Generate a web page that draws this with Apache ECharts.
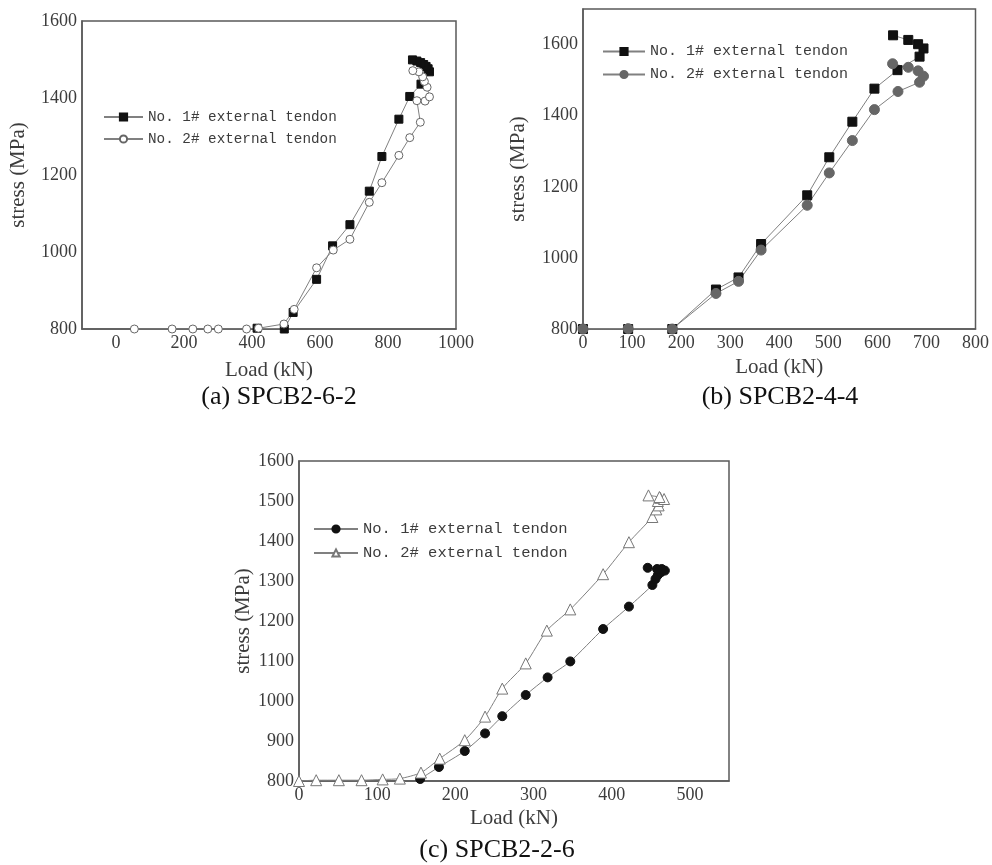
<!DOCTYPE html>
<html>
<head>
<meta charset="utf-8">
<script src="https://cdn.jsdelivr.net/npm/echarts@6/dist/echarts.min.js"></script>
<style>
html,body{margin:0;padding:0;background:#fff;}
#chart{width:992px;height:865px;}
</style>
</head>
<body>
<div id="chart"></div>
<script>
// ---- Data ----
// (a) SPCB2-6-2
const loadA1   = [415, 495, 521, 590, 637, 688, 745, 782, 832, 864, 897, 922, 918, 912, 905, 896, 885, 872];
const stressA1 = [802, 800, 843, 929, 1016, 1071, 1158, 1248, 1345, 1404, 1436, 1468, 1476, 1482, 1487, 1492, 1496, 1499];
const loadA2   = [54, 165, 226, 270, 301, 384, 419, 494, 524, 590, 639, 688, 745, 782, 832, 864, 895, 885, 909, 922, 915, 907, 902, 891, 873];
const stressA2 = [800, 800, 800, 800, 800, 800, 802, 813, 851, 959, 1005, 1033, 1129, 1180, 1251, 1297, 1337, 1393, 1392, 1403, 1428, 1443, 1455, 1468, 1471];
// (b) SPCB2-4-4
const loadB1   = [0, 92, 182, 271, 317, 363, 457, 502, 549, 594, 641, 686, 694, 683, 663, 632];
const stressB1 = [800, 800, 800, 911, 945, 1039, 1176, 1283, 1383, 1476, 1528, 1566, 1589, 1601, 1613, 1626];
const loadB2   = [0, 92, 182, 271, 317, 363, 457, 502, 549, 594, 642, 686, 694, 683, 663, 631];
const stressB2 = [800, 801, 800, 900, 934, 1022, 1148, 1239, 1330, 1417, 1468, 1494, 1511, 1526, 1536, 1546];
// (c) SPCB2-2-6
const loadC1   = [155, 179, 212, 238, 260, 290, 318, 347, 389, 422, 452, 456, 459, 463, 468, 464, 458, 446];
const stressC1 = [805, 835, 875, 919, 962, 1015, 1059, 1099, 1180, 1236, 1290, 1305, 1315, 1322, 1326, 1330, 1330, 1333];
const loadC2   = [0, 22, 51, 80, 107, 129, 156, 180, 212, 238, 260, 290, 317, 347, 389, 422, 452, 457, 460, 459, 462, 467, 461, 447];
const stressC2 = [800, 802, 802, 802, 804, 806, 821, 856, 902, 961, 1031, 1094, 1176, 1229, 1317, 1397, 1460, 1479, 1489, 1500, 1508, 1505, 1510, 1514];

const seriesNames = { a1: 'No. 1# external tendon', a2: 'No. 2# external tendon',
                      b1: 'No. 1# external tendon', b2: 'No. 2# external tendon',
                      c1: 'No. 1# external tendon', c2: 'No. 2# external tendon' };
const captions = ['(a) SPCB2-6-2', '(b) SPCB2-4-4', '(c) SPCB2-2-6'];
const xName = 'Load (kN)';
const yName = 'stress (MPa)';

function zip(xs, ys){ return xs.map((x,i)=>[x, ys[i]]); }

const serif = 'Liberation Serif';
const mono = 'Liberation Mono';
const txt = '#3c3c3c';
const frame = '#5a5a5a';
const lineCol = '#808080';

function xAxis(gi, min, max, interval, step, gap){
  return {
    type:'value', gridIndex:gi, min:min, max:max, interval:interval,
    name:xName, nameLocation:'middle', nameGap:gap,
    nameTextStyle:{fontFamily:serif, fontSize:21, color:txt},
    axisLine:{show:true, onZero:false, lineStyle:{color:frame, width:1.5}},
    axisTick:{show:false}, splitLine:{show:false},
    axisLabel:{fontFamily:serif, fontSize:18, color:txt, margin:5,
      formatter:v=> (Math.abs(v % step) < 1e-9) ? String(v) : ''}
  };
}
function yAxis(gi, min, max, interval, step, gap){
  return {
    type:'value', gridIndex:gi, min:min, max:max, interval:interval,
    name:yName, nameLocation:'middle', nameGap:gap, nameRotate:90,
    nameTextStyle:{fontFamily:serif, fontSize:21, color:txt},
    axisLine:{show:true, onZero:false, lineStyle:{color:frame, width:1.5}},
    axisTick:{show:false}, splitLine:{show:false},
    axisLabel:{fontFamily:serif, fontSize:18, color:txt, margin:5,
      formatter:v=> (Math.abs((v-800) % step) < 1e-9) ? String(v) : ''}
  };
}
function line(name, gi, data, symbol, size, fill, border, smooth){
  return {
    name:name, type:'line', xAxisIndex:gi, yAxisIndex:gi, data:data,
    symbol:symbol, symbolSize:size, showAllSymbol:true, smooth:smooth||false,
    lineStyle:{color:lineCol, width:1},
    itemStyle:{color:fill, borderColor:border, borderWidth:1},
    emphasis:{disabled:true}, animation:false
  };
}
function legend(names, left, top, w, fs){
  return {
    orient:'vertical', left:left, top:top, padding:0, itemWidth:w, itemHeight:9, itemGap:8,
    data:names, selectedMode:false,
    formatter:n=>seriesNames[n],
    textStyle:{fontFamily:mono, fontSize:fs, color:txt}
  };
}

const option = {
  backgroundColor:'#fff',
  animation:false,
  grid:[
    {left:82, top:21, width:374, height:308, show:true, borderColor:frame, borderWidth:1.5},
    {left:583, top:9, width:394, height:320, show:true, borderColor:frame, borderWidth:1.5},
    {left:299, top:461, width:430, height:320, show:true, borderColor:frame, borderWidth:1.5}
  ],
  xAxis:[
    xAxis(0, -100, 1000, 100, 200, 31),
    xAxis(1, 0, 800, 100, 100, 28),
    xAxis(2, 0, 550, 50, 100, 27)
  ],
  yAxis:[
    yAxis(0, 800, 1600, 200, 200, 53),
    yAxis(1, 800, 1700, 100, 200, 54),
    yAxis(2, 800, 1600, 100, 100, 35)
  ],
  legend:[
    legend(['a1','a2'], 103, 110, 39, 14.3),
    legend(['b1','b2'], 602, 44, 42, 15),
    legend(['c1','c2'], 313, 521, 44, 15.5)
  ],
  series:[
    line('a1', 0, zip(loadA1, stressA1), 'rect', 8, '#111', '#111'),
    line('a2', 0, zip(loadA2, stressA2), 'circle', 8, '#fff', '#666'),
    line('b1', 1, zip(loadB1, stressB1), 'rect', 9, '#111', '#111'),
    line('b2', 1, zip(loadB2, stressB2), 'circle', 10, '#666', '#666'),
    line('c1', 2, zip(loadC1, stressC1), 'circle', 9, '#111', '#111', 0.25),
    line('c2', 2, zip(loadC2, stressC2), 'triangle', 11, '#fff', '#777', 0.25)
  ],
  graphic:[
    {type:'text', style:{text:captions[0], x:279, y:397, textAlign:'center', textVerticalAlign:'middle', font:'26px "Liberation Serif"', fill:'#111'}},
    {type:'text', style:{text:captions[1], x:780, y:397, textAlign:'center', textVerticalAlign:'middle', font:'26px "Liberation Serif"', fill:'#111'}},
    {type:'text', style:{text:captions[2], x:497, y:850, textAlign:'center', textVerticalAlign:'middle', font:'26px "Liberation Serif"', fill:'#111'}}
  ]
};

const chart = echarts.init(document.getElementById('chart'), null, {renderer:'canvas'});
chart.setOption(option);
</script>
</body>
</html>
